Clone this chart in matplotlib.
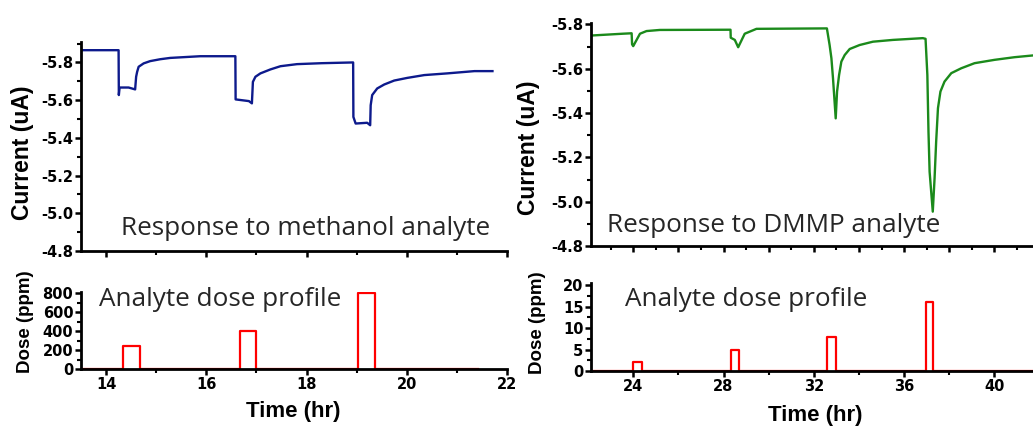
import matplotlib
matplotlib.use("Agg")
import matplotlib.pyplot as plt
from matplotlib.ticker import MultipleLocator

# ---- methanol run ----
meoh_time = [13.5, 14.25, 14.255, 14.27, 14.45, 14.58, 14.60, 14.62, 14.65, 14.75,
             14.88, 15.08, 15.28, 15.88, 16.58, 16.585, 16.85, 16.91, 16.93, 16.98,
             17.08, 17.28, 17.48, 17.81, 18.3, 18.93, 18.935, 18.98, 19.21, 19.27,
             19.28, 19.31, 19.41, 19.55, 19.75, 20.01, 20.35, 20.81, 21.35, 21.71]
meoh_current = [-5.865, -5.865, -5.627, -5.667, -5.667, -5.657, -5.724, -5.75, -5.777, -5.795,
                -5.807, -5.817, -5.824, -5.833, -5.833, -5.604, -5.595, -5.583, -5.697, -5.724,
                -5.742, -5.763, -5.78, -5.791, -5.796, -5.80, -5.511, -5.476, -5.48, -5.467,
                -5.573, -5.627, -5.662, -5.683, -5.704, -5.718, -5.733, -5.742, -5.754, -5.754]
meoh_dose_start = [14.34, 16.67, 19.02]
meoh_dose_end = [14.68, 17.00, 19.36]
meoh_dose_ppm = [250, 400, 800]
meoh_dose_span = [13.5, 21.42]

# ---- DMMP run ----
dmmp_time = [22.17, 23.54, 23.93, 23.95, 24.0, 24.3, 24.59, 25.18, 28.31, 28.32,
             28.5, 28.65, 28.94, 29.46, 32.58, 32.70, 32.78, 32.85, 32.91, 32.97,
             33.03, 33.12, 33.22, 33.37, 33.59, 34.03, 34.62, 35.5, 36.83, 36.95,
             37.03, 37.08, 37.13, 37.27, 37.35, 37.42, 37.5, 37.61, 37.79, 38.09,
             38.53, 39.12, 40.0, 40.89, 41.71]
dmmp_current = [-5.750, -5.758, -5.76, -5.71, -5.702, -5.758, -5.77, -5.775, -5.776, -5.74,
                -5.73, -5.697, -5.758, -5.78, -5.782, -5.707, -5.647, -5.557, -5.467, -5.376,
                -5.497, -5.572, -5.632, -5.662, -5.689, -5.707, -5.722, -5.73, -5.738, -5.735,
                -5.572, -5.316, -5.135, -4.955, -5.106, -5.271, -5.422, -5.497, -5.542, -5.58,
                -5.602, -5.625, -5.64, -5.652, -5.66]
dmmp_dose_start = [23.97, 28.31, 32.59, 36.98]
dmmp_dose_end = [24.37, 28.68, 32.99, 37.30]
dmmp_dose_ppm = [2, 5, 8, 16]
dmmp_dose_span = [22.2, 41.71]

W, H = 1033, 428
fig = plt.figure(figsize=(W / 100, H / 100), dpi=100)
TICK_FONT = dict(family="DejaVu Sans", weight="bold", size=10.5)
LABEL_FONT = ["Liberation Sans", "DejaVu Sans"]
NOTE_FONT = ["Open Sans", "DejaVu Sans"]


def box(x0, x1, ytop, ybot):
    return [x0 / W, 1 - ybot / H, (x1 - x0) / W, (ybot - ytop) / H]


def dose_steps(span, starts, ends, levels):
    xs, ys = [span[0]], [0]
    for s, e, v in zip(starts, ends, levels):
        xs += [s, s, e, e]
        ys += [0, v, v, 0]
    xs.append(span[1])
    ys.append(0)
    return xs, ys


def style(ax):
    for side in ("top", "right"):
        ax.spines[side].set_visible(False)
    for side in ("left", "bottom"):
        ax.spines[side].set_linewidth(2.0)
    ax.tick_params(which="major", direction="out", length=4, width=1.8, pad=1.5)
    ax.tick_params(which="minor", direction="out", length=3, width=1.5)
    for lab in ax.get_xticklabels() + ax.get_yticklabels():
        lab.set_fontproperties(TICK_FONT)
    ax.set_facecolor("none")


# ---- left panel: methanol ----
axA = fig.add_axes(box(81, 507, 41.7, 251))
axA.plot(meoh_time, meoh_current, color="#0d1a8c", lw=1.7)
axA.set_xlim(13.5, 22)
axA.set_ylim(-4.8, -5.91)
axA.set_yticks([-5.8, -5.6, -5.4, -5.2, -5.0, -4.8])
axA.set_yticklabels(["-5.8", "-5.6", "-5.4", "-5.2", "-5.0", "-4.8"])
axA.yaxis.set_minor_locator(MultipleLocator(0.1))
axA.xaxis.set_major_locator(MultipleLocator(2))
axA.xaxis.set_minor_locator(MultipleLocator(1))
axA.tick_params(axis="x", labelbottom=False)
style(axA)

axB = fig.add_axes(box(81, 507, 291.7, 369.3))
xs, ys = dose_steps(meoh_dose_span, meoh_dose_start, meoh_dose_end, meoh_dose_ppm)
axB.plot(xs, ys, color="#ff0000", lw=1.6)
axB.set_xlim(13.5, 22)
axB.set_ylim(0, 817)
axB.yaxis.set_major_locator(MultipleLocator(200))
axB.yaxis.set_minor_locator(MultipleLocator(100))
axB.xaxis.set_major_locator(MultipleLocator(2))
axB.xaxis.set_minor_locator(MultipleLocator(1))
style(axB)

# ---- right panel: DMMP ----
axC = fig.add_axes(box(591, 1033, 23.3, 246))
axC.plot(dmmp_time, dmmp_current, color="#1b8a1b", lw=1.7)
axC.set_xlim(22.13, 41.71)
axC.set_ylim(-4.8, -5.805)
axC.set_yticks([-5.8, -5.6, -5.4, -5.2, -5.0, -4.8])
axC.set_yticklabels(["-5.8", "-5.6", "-5.4", "-5.2", "-5.0", "-4.8"])
axC.yaxis.set_minor_locator(MultipleLocator(0.1))
axC.xaxis.set_major_locator(MultipleLocator(2))
axC.xaxis.set_minor_locator(MultipleLocator(1))
axC.tick_params(axis="x", labelbottom=False)
style(axC)

axD = fig.add_axes(box(591, 1033, 283.3, 371))
xs, ys = dose_steps(dmmp_dose_span, dmmp_dose_start, dmmp_dose_end, dmmp_dose_ppm)
axD.plot(xs, ys, color="#ff0000", lw=1.6)
axD.set_xlim(22.13, 41.71)
axD.set_ylim(0, 20.4)
axD.yaxis.set_major_locator(MultipleLocator(5))
axD.yaxis.set_minor_locator(MultipleLocator(2.5))
axD.xaxis.set_major_locator(MultipleLocator(4))
axD.xaxis.set_minor_locator(MultipleLocator(2))
style(axD)


def ftext(px, py, s, **kw):
    fig.text(px / W, 1 - py / H, s, **kw)


# axis titles
ftext(22, 153, "Current (uA)", rotation=90, ha="center", va="center",
      family=LABEL_FONT, weight="bold", size=16.5)
ftext(528, 148, "Current (uA)", rotation=90, ha="center", va="center",
      family=LABEL_FONT, weight="bold", size=16.5)
ftext(25, 322, "Dose (ppm)", rotation=90, ha="center", va="center",
      family=LABEL_FONT, weight="bold", size=13.5)
ftext(538, 323, "Dose (ppm)", rotation=90, ha="center", va="center",
      family=LABEL_FONT, weight="bold", size=13.5)
ftext(293, 412, "Time (hr)", ha="center", va="center",
      family=LABEL_FONT, weight="bold", size=16)
ftext(815, 415, "Time (hr)", ha="center", va="center",
      family=LABEL_FONT, weight="bold", size=16)

# panel notes
ftext(121, 235, "Response to methanol analyte", ha="left", va="baseline",
      family=NOTE_FONT, size=18.8, color="#262626")
ftext(607, 232, "Response to DMMP analyte", ha="left", va="baseline",
      family=NOTE_FONT, size=18.8, color="#262626")
ftext(99, 305.7, "Analyte dose profile", ha="left", va="baseline",
      family=NOTE_FONT, size=18.8, color="#262626")
ftext(625, 305.7, "Analyte dose profile", ha="left", va="baseline",
      family=NOTE_FONT, size=18.8, color="#262626")

fig.savefig("out.png", dpi=100)
